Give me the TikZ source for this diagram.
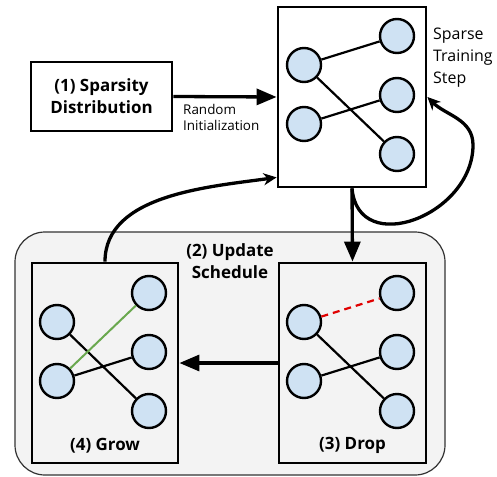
\documentclass[tikz,border=0pt]{standalone}
\usepackage{fontspec}
\setmainfont{Open Sans}
\usetikzlibrary{arrows.meta}
\definecolor{nodefill}{HTML}{CFE2F3}
\definecolor{bggray}{HTML}{F3F3F3}
\definecolor{grownew}{HTML}{6AA84F}
\definecolor{dropred}{HTML}{E00000}
\tikzset{
  panel/.style={draw=black, line width=2.8bp, fill=white, inner sep=0pt},
  graypanel/.style={draw=black, line width=2.8bp, fill=bggray, inner sep=0pt},
  neuron/.style={circle, draw=black, line width=2.4bp, fill=nodefill, minimum size=34bp, inner sep=0pt},
  edge/.style={line width=2.2bp, black},
  flow/.style={line width=3.3bp, -{Triangle[length=20bp,width=16bp]}},
  curvy/.style={line width=3.3bp, -{Stealth[length=13bp,width=12bp,inset=4bp]}},
  boldlbl/.style={font=\bfseries\fontsize{17}{21}\selectfont, align=center, inner sep=0pt},
}
\begin{document}
\begin{tikzpicture}[x=1bp,y=-1bp]
\useasboundingbox (0,0) rectangle (497,477);
% background group
\draw[line width=1.2bp, draw=black!80, fill=bggray, rounded corners=30bp] (15,232) rectangle (445,475);
% panels
\node[panel, minimum width=148bp, minimum height=180bp] (top) at (352,97) {};
\node[panel, minimum width=141bp, minimum height=69bp, font=\bfseries\fontsize{17}{22}\selectfont, align=center] (spars) at (101.5,96.5) {(1) Sparsity\\Distribution};
\node[graypanel, minimum width=146bp, minimum height=200bp] (grow) at (105,363) {};
\node[graypanel, minimum width=147bp, minimum height=200bp] (drop) at (352.5,363) {};
% top network
\node[neuron] (tl1) at (304,65) {};
\node[neuron] (tl2) at (304,124) {};
\node[neuron] (tr1) at (397,36) {};
\node[neuron] (tr2) at (397,95) {};
\node[neuron] (tr3) at (397,154) {};
\draw[edge] (tl1) -- (tr1);
\draw[edge] (tl1) -- (tr3);
\draw[edge] (tl2) -- (tr2);
% drop network
\node[neuron] (dl1) at (304,322) {};
\node[neuron] (dl2) at (304,381) {};
\node[neuron] (dr1) at (397,293) {};
\node[neuron] (dr2) at (397,352) {};
\node[neuron] (dr3) at (397,411) {};
\draw[line width=2.2bp, dropred, dash pattern=on 7bp off 5bp] (dl1) -- (dr1);
\draw[edge] (dl1) -- (dr3);
\draw[edge] (dl2) -- (dr2);
% grow network
\node[neuron] (gl1) at (57,322) {};
\node[neuron] (gl2) at (57,381) {};
\node[neuron] (gr1) at (149,293) {};
\node[neuron] (gr2) at (149,352) {};
\node[neuron] (gr3) at (149,411) {};
\draw[edge] (gl1) -- (gr3);
\draw[edge] (gl2) -- (gr2);
\draw[line width=2bp, grownew] (gl2) -- (gr1);
% labels
\node[boldlbl] (lgrow) at ([yshift=19bp]grow.south) {(4) Grow};
\node[boldlbl] (ldrop) at ([yshift=19bp]drop.south) {(3) Drop};
\node[boldlbl, font=\bfseries\fontsize{17}{22}\selectfont] (lupd) at (230,261) {(2) Update\\Schedule};
\node[anchor=north west, inner sep=0pt, align=left, font=\fontsize{13.5}{16.5}\selectfont] (lrand) at (183,104) {Random\\Initialization};
\node[anchor=north west, inner sep=0pt, align=left, font=\fontsize{16}{22}\selectfont] (lsparse) at (433,28) {Sparse\\Training\\Step};
% connectors
\draw[flow] (spars.east) -- (top.west);
\draw[flow] (top.south) -- (drop.north);
\draw[flow] (drop.west) -- (grow.east);
\coordinate (lr) at (473,145);
\draw[curvy] (top.south) to[out=-85,in=-90,looseness=1.4] (lr) to[out=90,in=-45] (top.east);
\draw[curvy] (grow.north) to[out=90,in=188,looseness=0.9] ([yshift=11bp]top.south west);
\end{tikzpicture}
\end{document}
